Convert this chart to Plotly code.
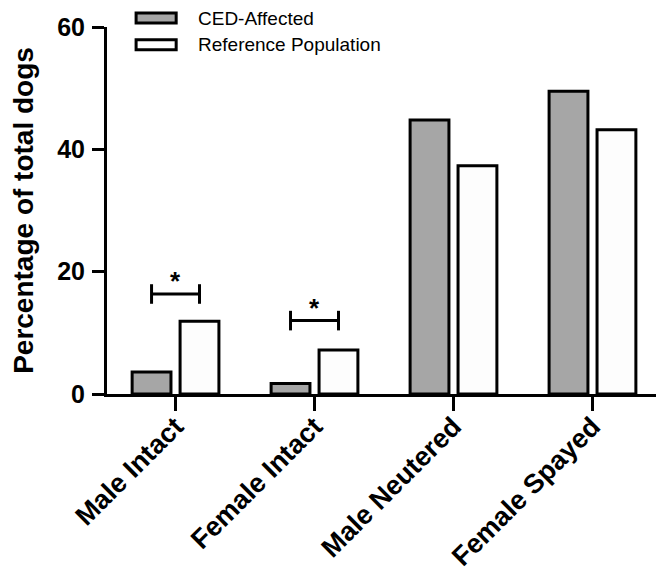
import plotly.graph_objects as go

categories = ["Male Intact", "Female Intact", "Male Neutered", "Female Spayed"]
ced_affected = [3.6, 1.7, 44.8, 49.5]
reference_pop = [11.9, 7.2, 37.3, 43.2]
series_names = ["CED-Affected", "Reference Population"]
y_ticks = [0, 20, 40, 60]
# significance brackets: category index, bracket height
sig_cats = [0, 1]
sig_heights = [16.35, 12.0]

FONT = "Arial, Liberation Sans, sans-serif"
GRAY = "#a6a6a6"

fig = go.Figure()
fig.add_trace(go.Bar(x=categories, y=ced_affected, name=series_names[0],
                     marker=dict(color=GRAY, line=dict(color="black", width=3)),
                     showlegend=False))
fig.add_trace(go.Bar(x=categories, y=reference_pop, name=series_names[1],
                     marker=dict(color="#fdfdfd", line=dict(color="black", width=3)),
                     showlegend=False))

shapes = []
annotations = []
half = 0.1725
cap = 1.6
for ci, h in zip(sig_cats, sig_heights):
    shapes.append(dict(type="line", xref="x", yref="y", x0=ci - half, x1=ci + half, y0=h, y1=h,
                       line=dict(color="black", width=3)))
    for xx in (ci - half, ci + half):
        shapes.append(dict(type="line", xref="x", yref="y", x0=xx, x1=xx, y0=h - cap, y1=h + cap,
                           line=dict(color="black", width=3)))
    annotations.append(dict(x=ci, y=h, xref="x", yref="y", text="*", showarrow=False,
                            yanchor="bottom", yshift=-4,
                            font=dict(family=FONT, size=26, color="black", weight="bold")))

# custom legend (wide swatches)
leg_fills = [GRAY, "#fdfdfd"]
leg_y = [(1.0110, 1.038), (0.938, 0.965)]
for name, fill, (y0, y1) in zip(series_names, leg_fills, leg_y):
    shapes.append(dict(type="rect", xref="paper", yref="paper", x0=0.053, x1=0.126, y0=y0, y1=y1,
                       fillcolor=fill, line=dict(color="black", width=3)))
    annotations.append(dict(x=0.163, y=(y0 + y1) / 2, xref="paper", yref="paper", text=name,
                            showarrow=False, xanchor="left", yanchor="middle",
                            font=dict(family=FONT, size=19, color="black")))

fig.update_layout(
    width=656, height=573,
    margin=dict(l=107, r=0, t=27, b=179),
    paper_bgcolor="white", plot_bgcolor="white",
    barmode="group", bargap=0.31, bargroupgap=0.19,
    shapes=shapes, annotations=annotations,
    font=dict(family=FONT, color="black"),
    xaxis=dict(range=[-0.493, 3.457], showline=True, linecolor="black", linewidth=3,
               ticks="outside", ticklen=14, tickwidth=3, tickcolor="black",
               tickangle=-45, automargin=False, ticklabelstandoff=-11,
               tickfont=dict(family=FONT, size=27, color="black", weight="bold"),
               showgrid=False, zeroline=False),
    yaxis=dict(range=[0, 60], tickvals=y_ticks, showline=True, linecolor="black", linewidth=3,
               ticks="outside", ticklen=12, tickwidth=3, tickcolor="black", automargin=False,
               ticklabelstandoff=2,
               tickfont=dict(family=FONT, size=25, color="black", weight="bold"),
               showgrid=False, zeroline=False,
               title=dict(text="Percentage of total dogs", standoff=16,
                          font=dict(family=FONT, size=28, color="black", weight="bold"))),
)

fig.write_html("out.html", config={"displayModeBar": False},
               post_script="document.body.style.margin='0';document.body.style.overflow='hidden';")
